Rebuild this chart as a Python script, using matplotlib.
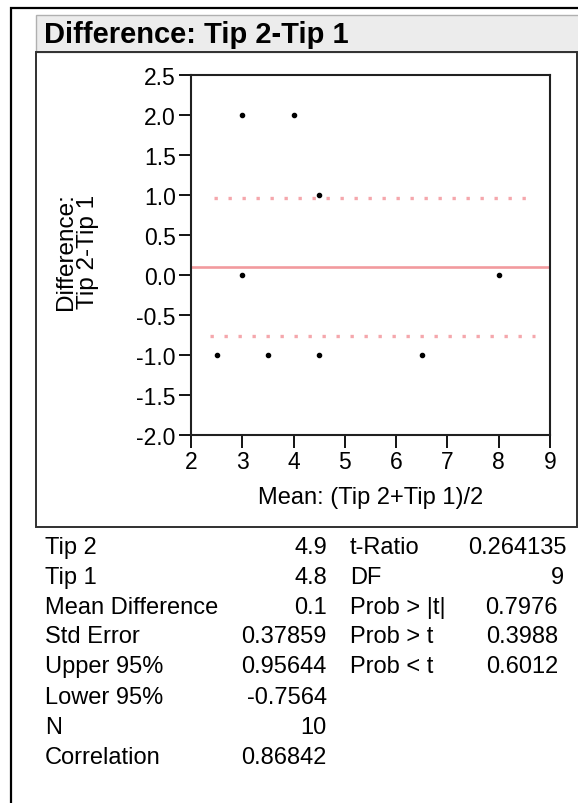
import matplotlib.pyplot as plt
from matplotlib.patches import Rectangle

plt.rcParams["font.family"] = ["Liberation Sans", "DejaVu Sans"]

W, H = 578, 804

# paired means (x) and differences (y)
mean_vals = [2.5, 3.0, 3.0, 3.5, 4.0, 4.5, 4.5, 6.5, 8.0]
diff_vals = [-1.0, 2.0, 0.0, -1.0, 2.0, 1.0, -1.0, -1.0, 0.0]

mean_diff = 0.1
upper95 = 0.95644
lower95 = -0.7564

y_ticks = [-2.0, -1.5, -1.0, -0.5, 0.0, 0.5, 1.0, 1.5, 2.0, 2.5]
x_ticks = [2, 3, 4, 5, 6, 7, 8, 9]

left_labels = ["Tip 2", "Tip 1", "Mean Difference", "Std Error",
               "Upper 95%", "Lower 95%", "N", "Correlation"]
left_values = ["4.9", "4.8", "0.1", "0.37859", "0.95644", "-0.7564", "10", "0.86842"]
right_labels = ["t-Ratio", "DF", "Prob > |t|", "Prob > t", "Prob < t"]
right_values = ["0.264135", "9", "0.7976", "0.3988", "0.6012"]


def fx(px):
    return px / W


def fy(py):
    return 1 - py / H


fig = plt.figure(figsize=(W / 100, H / 100), dpi=100)

# outer outline box
fig.add_artist(Rectangle((fx(11), fy(H + 5)), fx(W + 10) - fx(11), fy(9) - fy(H + 5),
                         transform=fig.transFigure, fill=False, ec="black", lw=1.6))
# title bar
fig.add_artist(Rectangle((fx(36), fy(53)), fx(W + 5) - fx(36), fy(16) - fy(53),
                         transform=fig.transFigure, fc="#ececec", ec="#b0b0b0", lw=1))
fig.text(fx(44), fy(35), "Difference: Tip 2-Tip 1", fontsize=21, fontweight="bold",
         va="center", ha="left")
# frame around the plot
fig.add_artist(Rectangle((fx(36), fy(528)), fx(577) - fx(36), fy(53) - fy(528),
                         transform=fig.transFigure, fill=False, ec="#303030", lw=1.4))

ax = fig.add_axes([fx(191), fy(436), fx(550) - fx(191), fy(76) - fy(436)])
ax.set_xlim(2, 9)
ax.set_ylim(-2, 2.5)

ax.axhline(mean_diff, color="#f29a9e", lw=1.9, zorder=2)
ax.plot([2.45, 8.6], [upper95, upper95], color="#f5a7ac", lw=2.4,
        linestyle=(0, (1.0, 3.2)), zorder=2)
ax.plot([2.37, 8.7], [lower95, lower95], color="#f5a7ac", lw=2.4,
        linestyle=(0, (1.0, 3.2)), zorder=2)
ax.plot(mean_vals, diff_vals, "o", color="black", ms=3, zorder=3)

ax.set_xticks(x_ticks)
ax.set_yticks(y_ticks)
ax.set_yticklabels(["%.1f" % v for v in y_ticks])
ax.tick_params(direction="out", length=9, width=1.3, labelsize=16.5, pad=2)
for sp in ax.spines.values():
    sp.set_linewidth(1.5)
    sp.set_color("#202020")

ax.set_xlabel("Mean: (Tip 2+Tip 1)/2", fontsize=17, labelpad=9)
fig.text(fx(77), fy(252), "Difference:\nTip 2-Tip 1", rotation=90, fontsize=17.5,
         ha="center", va="center", linespacing=1.0)

# summary table
row_y = [548, 578, 608, 637, 667, 698, 728, 758]
for i, (lab, val) in enumerate(zip(left_labels, left_values)):
    fig.text(fx(45), fy(row_y[i]), lab, fontsize=17, ha="left", va="center")
    fig.text(fx(327), fy(row_y[i]), val, fontsize=17, ha="right", va="center")

right_edge = [567, 564, 558, 558, 558]
for i, (lab, val) in enumerate(zip(right_labels, right_values)):
    fig.text(fx(350), fy(row_y[i]), lab, fontsize=17, ha="left", va="center")
    fig.text(fx(right_edge[i]), fy(row_y[i]), val, fontsize=17, ha="right", va="center")

fig.savefig("out.png", dpi=100)
